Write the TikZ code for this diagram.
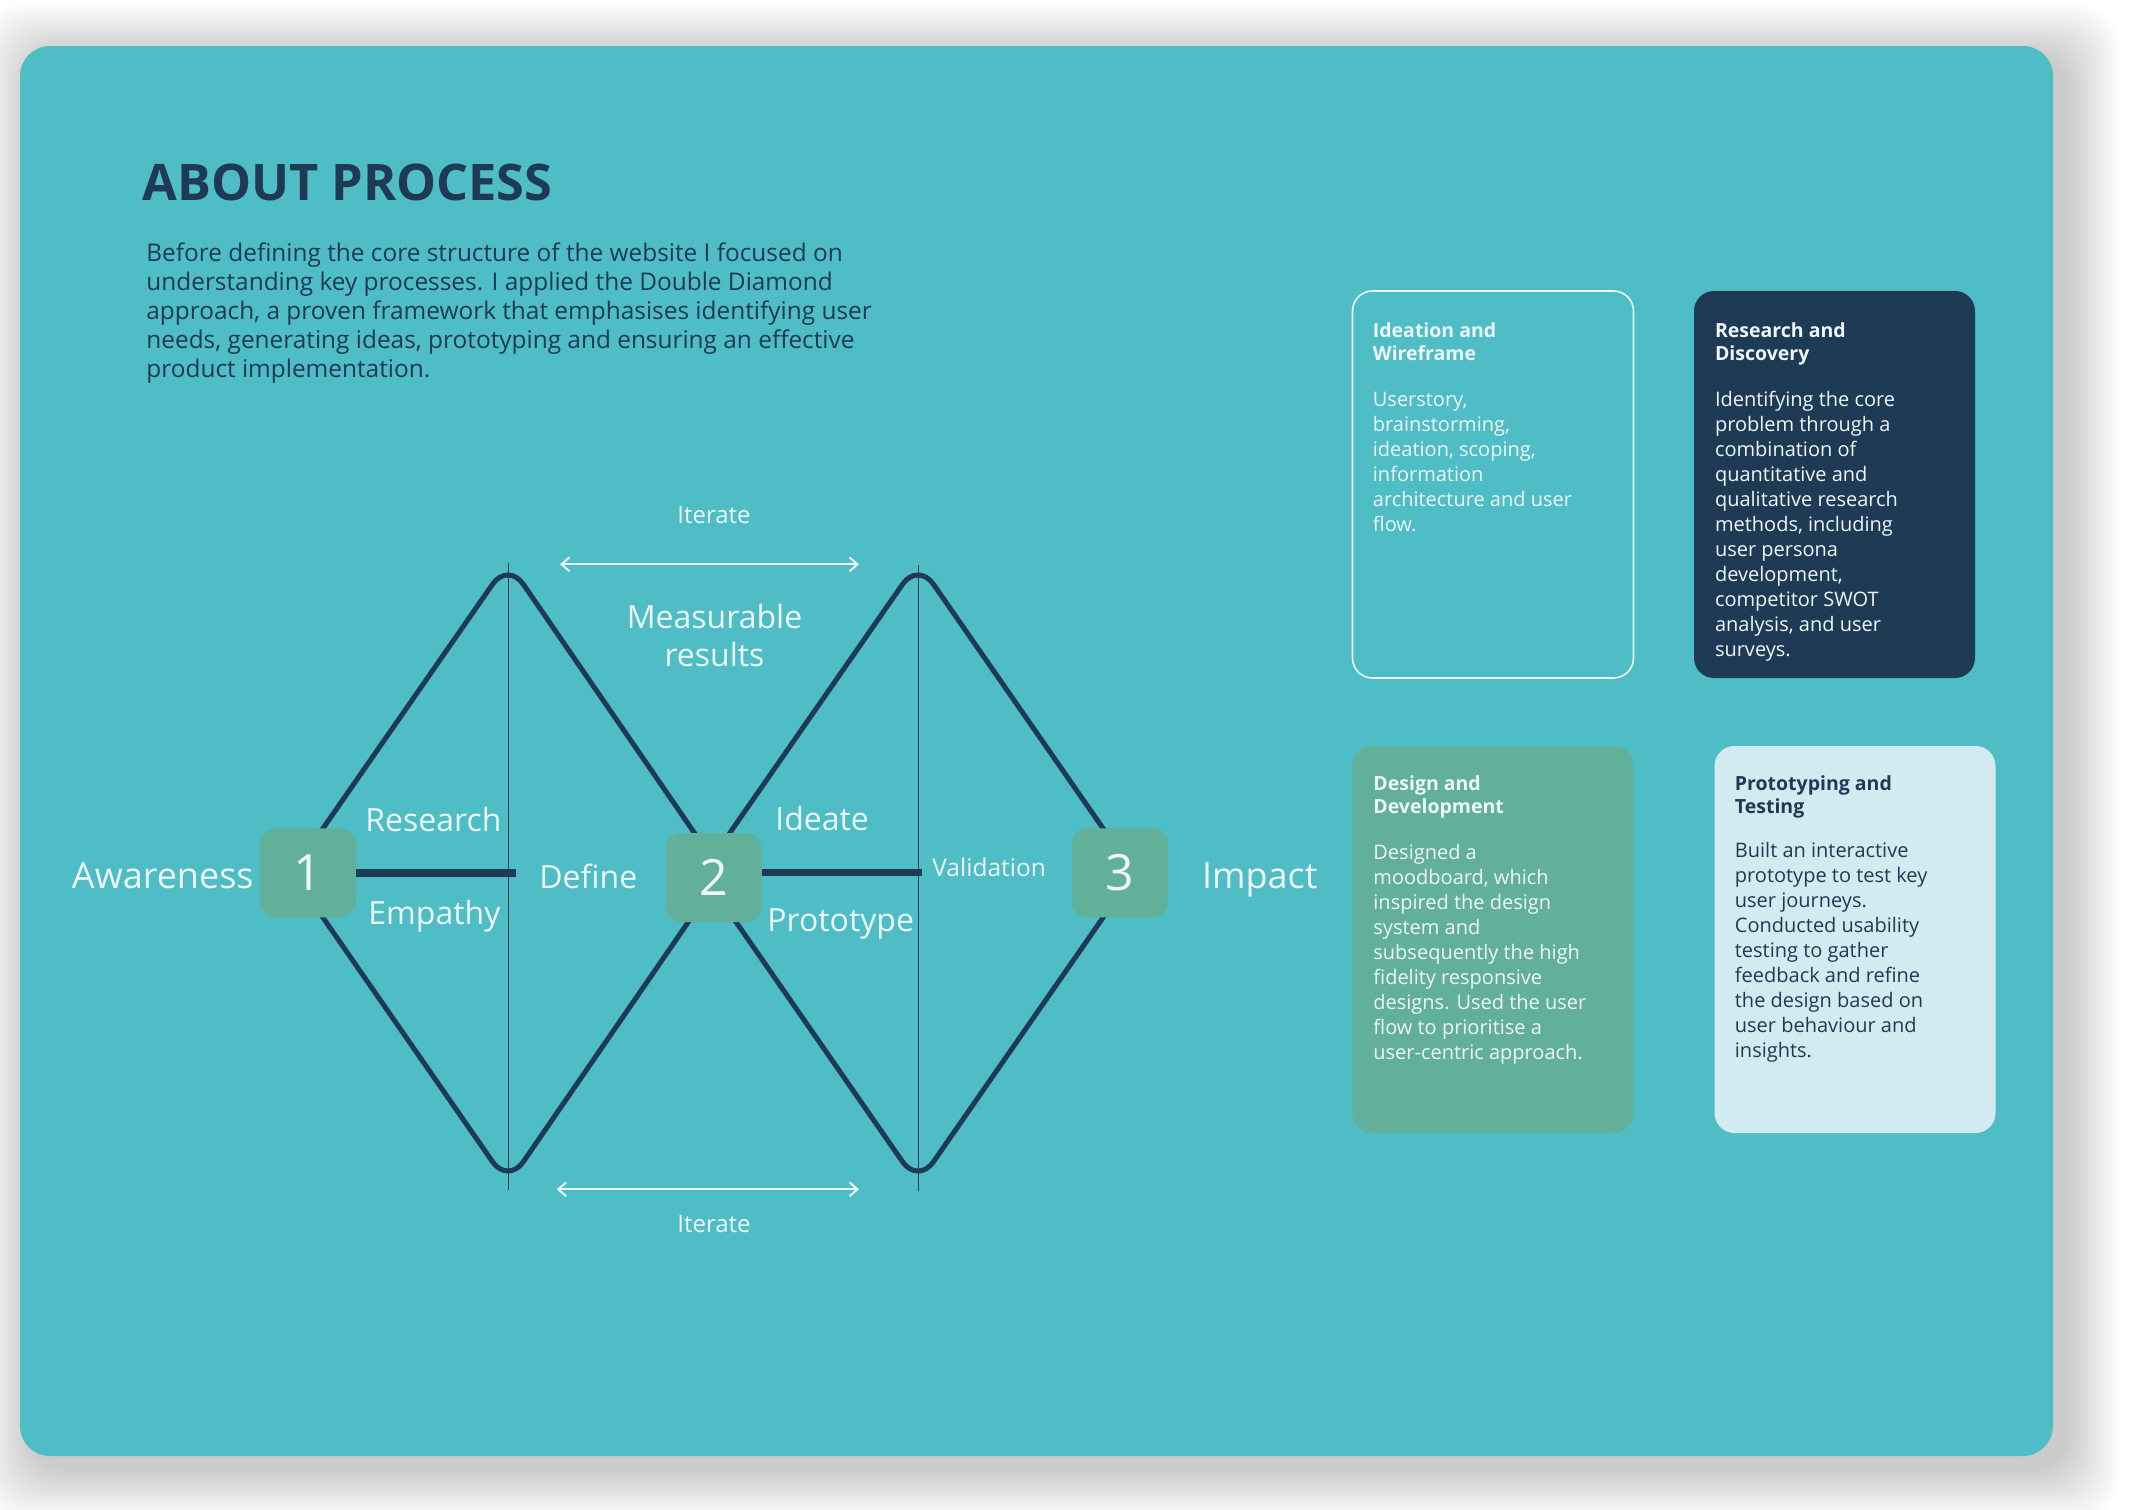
\documentclass[tikz,border=0pt]{standalone}
\usepackage{fontspec}
\setmainfont{Open Sans}
\usetikzlibrary{arrows.meta}
\definecolor{cardteal}{RGB}{78,189,197}
\definecolor{navy}{RGB}{31,58,84}
\definecolor{boxgreen}{RGB}{99,176,154}
\definecolor{lightcard}{RGB}{211,235,240}
\definecolor{whitetext}{RGB}{237,247,247}
\newcommand{\mylines}[2]{\begin{tabular}[t]{@{}#1@{}}#2\end{tabular}}
\begin{document}
\begin{tikzpicture}[x=0.5pt,y=-0.5pt,
 numbox/.style={fill=boxgreen, rounded corners=8pt, minimum width=48pt, minimum height=44.5pt, inner sep=0pt, text=whitetext, font=\fontsize{25}{25}\selectfont},
 diam/.style={draw=navy, line width=2.5pt, rounded corners=13.5pt, line join=round},
 vline/.style={draw=navy, line width=0.75pt},
 hbar/.style={draw=navy, line width=3.6pt},
 iter/.style={draw=whitetext, line width=1pt, {Straight Barb[length=4pt,width=7pt]}-{Straight Barb[length=4pt,width=7pt]}},
 lbl/.style={text=whitetext, inner sep=0pt, font=\fontsize{16}{19.3}\selectfont},
 card/.style={rounded corners=10pt, minimum width=140.5pt, minimum height=193.5pt, inner sep=0pt},
 ctitle/.style={inner sep=0pt, anchor=base west, font=\fontsize{9.75}{11.5}\selectfont\bfseries},
 cbody/.style={inner sep=0pt, anchor=base west, font=\fontsize{10}{12.5}\selectfont},
]
\useasboundingbox (0,0) rectangle (2133,1510);
\fill[white] (0,0) rectangle (2133,1510);
% shadow
\foreach \i in {1,...,26}{
  \fill[black, opacity=0.0085, rounded corners=20pt] (32-2*\i,56-2*\i) rectangle (2067+2*\i,1468+2*\i);
}
% main card
\node[fill=cardteal, rounded corners=15pt, minimum width=1016.5pt, minimum height=705pt, inner sep=0pt] (main) at (1036.5,751) {};

% heading and paragraph
\node[inner sep=0pt, anchor=base west, text=navy, font=\fontsize{25.2}{28}\selectfont\bfseries] (title) at (142,200) {ABOUT PROCESS};
\node[inner sep=0pt, anchor=base west, text=navy, font=\fontsize{12.2}{14.5}\selectfont] (intro) at (146,261.7) {\mylines{l}{Before defining the core structure of the website I focused on\\ understanding key processes. I applied the Double Diamond\\ approach, a proven framework that emphasises identifying user\\ needs, generating ideas, prototyping and ensuring an effective\\ product implementation.}};

% diamond geometry
\coordinate (d1l) at (292,873);
\coordinate (d1t) at (508,562);
\coordinate (d1r) at (722,873);
\coordinate (d1b) at (508,1184);
\coordinate (d2l) at (702,873);
\coordinate (d2t) at (918,562);
\coordinate (d2r) at (1134,873);
\coordinate (d2b) at (918,1184);
\coordinate (v1t) at (508.5,562.5);
\coordinate (v1b) at (508.5,1190);
\coordinate (v2t) at (918.3,565);
\coordinate (v2b) at (918.3,1191);
\coordinate (h1e) at (515.7,873);
\coordinate (h2e) at (921.7,872.5);

\draw[vline] (v1t) -- (v1b);
\draw[vline] (v2t) -- (v2b);
\draw[diam] (d1l) -- (d1t) -- (d1r) -- (d1b) -- cycle;
\draw[diam] (d2l) -- (d2t) -- (d2r) -- (d2b) -- cycle;

% numbered boxes
\node[numbox] (b1) at (308,872.8) {1};
\node[numbox] (b2) at (713.8,877.5) {2};
\node[numbox] (b3) at (1120,872.8) {3};
\draw[hbar] (b1.east |- h1e) -- (h1e);
\draw[hbar] (b2.east |- h2e) -- (h2e);

% iterate arrows
\coordinate (it1l) at (560,564.3);
\coordinate (it1r) at (859,564.3);
\coordinate (it2l) at (556.7,1189.3);
\coordinate (it2r) at (859,1189.3);
\draw[iter] (it1l) -- (it1r);
\draw[iter] (it2l) -- (it2r);

% labels
\node[lbl, anchor=base, font=\fontsize{12}{14}\selectfont] (iterTop) at (714,523.6) {Iterate};
\node[lbl, anchor=base, font=\fontsize{12}{14}\selectfont] (iterBot) at (714,1232) {Iterate};
\node[lbl, anchor=base] (meas) at (714.5,628) {\mylines{c}{Measurable\\ results}};
\node[lbl, anchor=base east, font=\fontsize{18}{20}\selectfont] (aware) at (254,888.5) {Awareness};
\node[lbl, anchor=base west] (research) at (365,831.7) {Research};
\node[lbl, anchor=base west] (empathy) at (368,924) {Empathy};
\node[lbl, anchor=base west] (define) at (539,888.6) {Define};
\node[lbl, anchor=base west] (ideate) at (775,830) {Ideate};
\node[lbl, anchor=base west] (proto) at (767,931.7) {Prototype};
\node[lbl, anchor=base west, font=\fontsize{12.25}{14}\selectfont] (valid) at (932,876) {Validation};
\node[lbl, anchor=base west, font=\fontsize{18}{20}\selectfont] (impact) at (1201.7,888.3) {Impact};

% cards
\node[card, draw=whitetext, line width=0.8pt] (cA) at (1493,484.5) {};
\node[card, fill=navy] (cB) at (1834.5,484.5) {};
\node[card, fill=boxgreen] (cC) at (1492.8,939.5) {};
\node[card, fill=lightcard] (cD) at (1855,939.5) {};

\node[ctitle, text=whitetext] (tA) at (1372.5,337.7) {\mylines{l}{Ideation and\\ Wireframe}};
\node[cbody, text=whitetext] (pA) at (1372.5,406.7) {\mylines{l}{Userstory,\\ brainstorming,\\ ideation, scoping,\\ information\\ architecture and user\\ flow.}};

\node[ctitle, text=whitetext] (tB) at (1714.6,337.7) {\mylines{l}{Research and\\ Discovery}};
\node[cbody, text=whitetext] (pB) at (1714.6,406.7) {\mylines{l}{Identifying the core\\ problem through a\\ combination of\\ quantitative and\\ qualitative research\\ methods, including\\ user persona\\ development,\\ competitor SWOT\\ analysis, and user\\ surveys.}};

\node[ctitle, text=whitetext] (tC) at (1373,790.3) {\mylines{l}{Design and\\ Development}};
\node[cbody, text=whitetext] (pC) at (1373,859) {\mylines{l}{Designed a\\ moodboard, which\\ inspired the design\\ system and\\ subsequently the high\\ fidelity responsive\\ designs. Used the user\\ flow to prioritise a\\ user-centric approach.}};

\node[ctitle, text=navy] (tD) at (1734.5,790.3) {\mylines{l}{Prototyping and\\ Testing}};
\node[cbody, text=navy] (pD) at (1734.5,857.7) {\mylines{l}{Built an interactive\\ prototype to test key\\ user journeys.\\ Conducted usability\\ testing to gather\\ feedback and refine\\ the design based on\\ user behaviour and\\ insights.}};
\end{tikzpicture}
\end{document}
